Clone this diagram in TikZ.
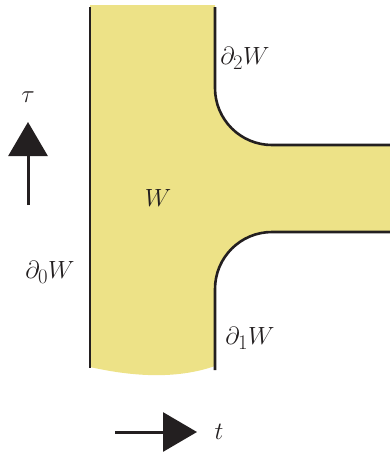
\documentclass[tikz,border=0pt]{standalone}
\usepackage{xcolor}
\usepackage{tikz}
\usetikzlibrary{arrows.meta}
\definecolor{RegionYellow}{HTML}{EDE287}
\definecolor{EdgeInk}{HTML}{231F20}

\begin{document}
\begin{tikzpicture}[x=1pt,y=-1pt,
  edge/.style={draw=EdgeInk,line width=2.6pt},
  dir/.style={draw=EdgeInk,fill=EdgeInk,line width=3pt,-{Triangle[length=34pt,width=39pt]}},
  lab/.style={inner sep=0pt,text=EdgeInk,font=\fontsize{28}{32}\selectfont}
]
\useasboundingbox (0,0) rectangle (390,456);
% region W
\fill[RegionYellow] (90,5) -- (215,5) -- (215,88)
  .. controls (215,119.5) and (240.5,145) .. (272,145) -- (390,145) -- (390,232) -- (272,232)
  .. controls (240.5,232) and (215,257.5) .. (215,289) -- (215,366)
  .. controls (175,380) and (130,376) .. (90,367) -- cycle;
% boundary pieces
\draw[edge] (90,7) -- (90,368);
\draw[edge] (215,7) -- (215,88)
  .. controls (215,119.5) and (240.5,145) .. (272,145) -- (390,145);
\draw[edge] (390,232) -- (272,232)
  .. controls (240.5,232) and (215,257.5) .. (215,289) -- (215,370);
% labels
\node[lab] (w) at (158,198) {$W$};
\node[lab] (d0) at (50,272) {$\partial_0 W$};
\node[lab] (d1) at (250,338) {$\partial_1 W$};
\node[lab] (d2) at (245,58) {$\partial_2 W$};
\node[lab] (tau) at (28,97) {$\tau$};
\node[lab] (t) at (219,432) {$t$};
% direction arrows
\coordinate (taufoot) at (28,205);
\coordinate (tautip) at (28,122);
\coordinate (tfoot) at (115,432);
\coordinate (ttip) at (197,432);
\draw[dir] (taufoot) -- (tautip);
\draw[dir] (tfoot) -- (ttip);
\end{tikzpicture}
\end{document}
